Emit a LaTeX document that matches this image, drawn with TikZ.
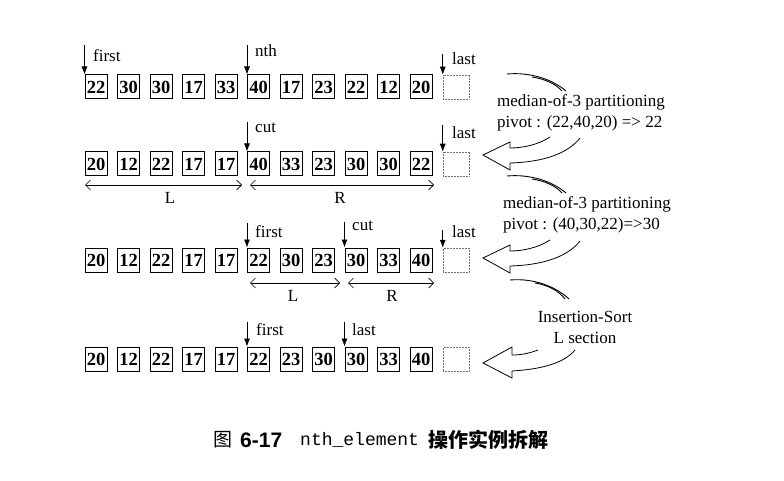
\documentclass[tikz,border=0pt]{standalone}
\usepackage{fontspec}
\setmainfont{Liberation Serif}
\setsansfont{Liberation Sans}
\setmonofont{Liberation Mono}
\newfontfamily\cjk{Noto Sans CJK SC}
\usetikzlibrary{arrows.meta}
\begin{document}
\begin{tikzpicture}[x=1pt,y=-1pt,
  num/.style={draw, line width=1pt, minimum width=22pt, minimum height=24pt, inner sep=0pt, font=\fontsize{18.5}{18.5}\selectfont\bfseries},
  endbox/.style={draw, densely dotted, line width=0.5pt, black!55, minimum width=26pt, minimum height=24pt, inner sep=0pt},
  lab/.style={font=\fontsize{17}{17}\selectfont, inner sep=0pt, anchor=west},
  note/.style={font=\fontsize{17}{21}\selectfont, inner sep=0pt},
  ptr/.style={line width=0.7pt, -{Latex[length=8pt,width=6pt]}},
  spanarrow/.style={line width=0.6pt, {Straight Barb[length=5pt,width=10pt]}-{Straight Barb[length=5pt,width=10pt]}},
  hollow/.style={line width=0.8pt, line join=miter},
  tail/.style={line width=0.9pt}]
\useasboundingbox (0,0) rectangle (784,481);

% ---------- row 1 ----------
\foreach \v [count=\i] in {22,30,30,17,33,40,17,23,22,12,20}
  \node[num] (a\i) at ({96+32.5*(\i-1)},87) {\v};
\node[endbox] (ae) at (456,87) {};
\coordinate (pa1) at ([yshift=29pt]a1.north west);
\draw[ptr] (pa1) -- (a1.north west);
\node[lab] (la1) at (93,56) {first};
\coordinate (pa6) at ([yshift=29pt]a6.north west);
\draw[ptr] (pa6) -- (a6.north west);
\node[lab] (la6) at (255,51) {nth};
\coordinate (pae) at ([yshift=21pt]ae.north west);
\draw[ptr] (pae) -- (ae.north west);
\node[lab] (lae) at (452,59) {last};

% ---------- row 2 ----------
\foreach \v [count=\i] in {20,12,22,17,17,40,33,23,30,30,22}
  \node[num] (b\i) at ({96+32.5*(\i-1)},164) {\v};
\node[endbox] (be) at (456,164) {};
\coordinate (pb6) at ([yshift=29pt]b6.north west);
\draw[ptr] (pb6) -- (b6.north west);
\node[lab] (lb6) at (255,128) {cut};
\coordinate (pbe) at ([yshift=27pt]be.north west);
\draw[ptr] (pbe) -- (be.north west);
\node[lab] (lbe) at (452,133) {last};
\coordinate (L2a) at (85,185);
\coordinate (L2b) at (242,185);
\coordinate (R2a) at (250,185);
\coordinate (R2b) at (434,185);
\draw[spanarrow] (L2a) -- (L2b);
\draw[spanarrow] (R2a) -- (R2b);
\node[lab, anchor=center] (lL2) at (170,198) {L};
\node[lab, anchor=center] (lR2) at (340,198) {R};

% ---------- row 3 ----------
\foreach \v [count=\i] in {20,12,22,17,17,22,30,23,30,33,40}
  \node[num] (c\i) at ({96+32.5*(\i-1)},260) {\v};
\node[endbox] (ce) at (456,260) {};
\coordinate (pc6) at ([yshift=25pt]c6.north west);
\draw[ptr] (pc6) -- (c6.north west);
\node[lab] (lc6) at (255,232) {first};
\coordinate (pc9) at ([yshift=26pt]c9.north west);
\draw[ptr] (pc9) -- (c9.north west);
\node[lab] (lc9) at (352,226) {cut};
\coordinate (pce) at ([yshift=18pt]ce.north west);
\draw[ptr] (pce) -- (ce.north west);
\node[lab] (lce) at (452,232) {last};
\coordinate (L3a) at (250,283);
\coordinate (L3b) at (340,283);
\coordinate (R3a) at (348,283);
\coordinate (R3b) at (434,283);
\draw[spanarrow] (L3a) -- (L3b);
\draw[spanarrow] (R3a) -- (R3b);
\node[lab, anchor=center] (lL3) at (293,296) {L};
\node[lab, anchor=center] (lR3) at (392,296) {R};

% ---------- row 4 ----------
\foreach \v [count=\i] in {20,12,22,17,17,22,23,30,30,33,40}
  \node[num] (d\i) at ({96+32.5*(\i-1)},359) {\v};
\node[endbox] (de) at (456,359) {};
\coordinate (pd6) at ([yshift=25pt]d6.north west);
\draw[ptr] (pd6) -- (d6.north west);
\node[lab] (ld6) at (256,330) {first};
\coordinate (pd9) at ([yshift=25pt]d9.north west);
\draw[ptr] (pd9) -- (d9.north west);
\node[lab] (ld9) at (352,330) {last};

% ---------- notes ----------
\node[note, anchor=west, align=left] (n1) at (497,112.5) {median-of-3 partitioning\\pivot : (22,40,20) => 22};
\node[note, anchor=west, align=left] (n2) at (503,215) {median-of-3 partitioning\\pivot : (40,30,22)=>30};
\node[note, align=center] (n3) at (585,327) {Insertion-Sort\\L section};

% ---------- tails ----------
\draw[tail] (507,74) .. controls (530,72) and (552,79) .. (566,91);
\draw[tail] (532,77) .. controls (545,79) and (556,84) .. (562,91);
\draw[tail] (507,176) .. controls (530,174) and (552,181) .. (566,193);
\draw[tail] (532,179) .. controls (545,181) and (556,186) .. (562,193);
\draw[tail] (510,280) .. controls (533,278) and (555,286) .. (569,299);
\draw[tail] (535,283) .. controls (548,285) and (559,291) .. (565,299);

% ---------- hollow arrows ----------
\draw[hollow] (550,137) .. controls (538,145) and (522,148) .. (510,148) -- (510,142) -- (483,155) -- (510,170) -- (510,163) .. controls (545,162) and (568,153) .. (580,138);
\draw[hollow] (550,240) .. controls (538,248) and (522,251) .. (510,251) -- (510,245) -- (483,258) -- (510,273) -- (510,266) .. controls (545,265) and (568,256) .. (580,241);
\draw[hollow] (538,350) .. controls (530,353) and (522,355) .. (512,355) -- (512,347) -- (483,363) -- (512,378) -- (512,371) .. controls (545,369) and (565,362) .. (575,350);

% ---------- caption ----------
\node[inner sep=0pt, anchor=west, font=\fontsize{19}{19}\selectfont\cjk] (cap1) at (213,440) {图};
\node[inner sep=0pt, anchor=west, font=\fontsize{21}{21}\selectfont\sffamily\bfseries] (cap2) at (240,440) {6-17};
\node[inner sep=0pt, anchor=west, font=\fontsize{18}{18}\selectfont\ttfamily] (cap3) at (300,440) {nth\_element};
\node[inner sep=0pt, anchor=west, font=\fontsize{20}{20}\selectfont\cjk\bfseries] (cap4) at (428,440) {操作实例拆解};
\end{tikzpicture}
\end{document}
